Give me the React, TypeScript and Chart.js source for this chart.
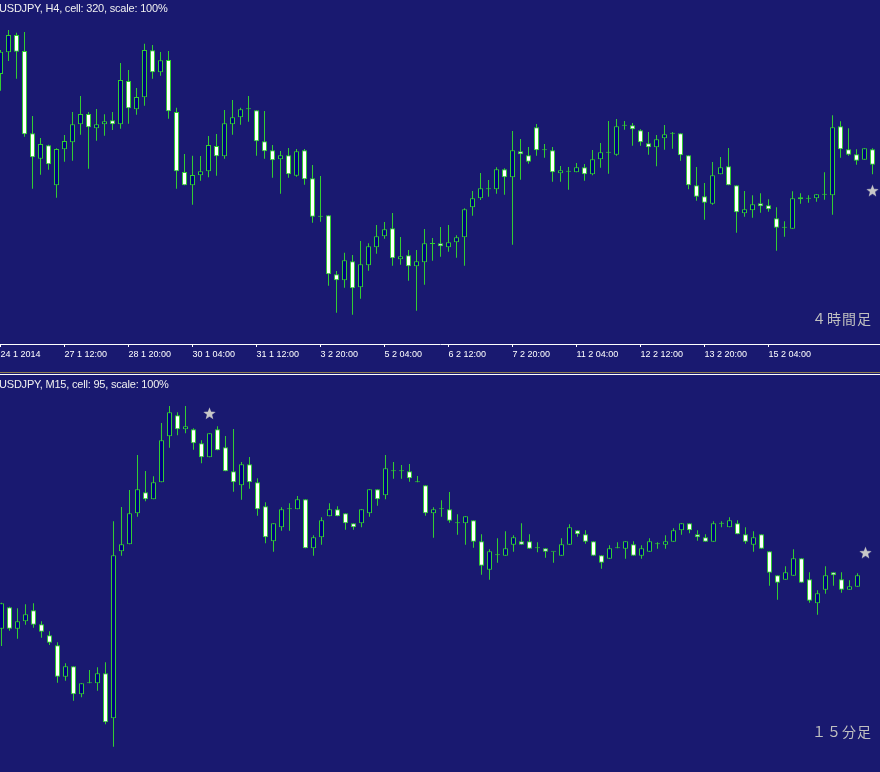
import React, { useEffect, useRef } from "react";
import { Chart, registerables } from "chart.js";

Chart.register(...registerables);

const BG = "#191970";
const GREEN = "#32cd32";
const BULL_FILL = "#000080";
const BEAR_FILL = "#ffffff";
const STAR_COLOR = "#c8c8c8";

// ---------- H4 panel (USDJPY, H4) ----------
const h4Open = [
  102.934, 103.129, 103.285, 103.141, 102.400, 102.172, 102.292, 101.932, 102.256, 102.319,
  102.481, 102.574, 102.445, 102.481, 102.517, 102.481, 102.871, 102.616, 102.724, 103.147,
  102.949, 103.060, 102.592, 102.052, 101.932, 102.022, 102.058, 102.286, 102.193, 102.481,
  102.544, 102.616, 102.607, 102.328, 102.247, 102.166, 102.202, 102.019, 102.247, 101.995,
  101.650, 101.662, 101.131, 101.077, 101.248, 101.014, 101.212, 101.374, 101.473, 101.545,
  101.266, 101.302, 101.203, 101.239, 101.404, 101.410, 101.374, 101.419, 101.464, 101.734,
  101.815, 101.896, 101.896, 102.076, 102.004, 102.238, 102.202, 102.454, 102.247, 102.247,
  102.040, 102.055, 102.049, 102.094, 102.031, 102.166, 102.226, 102.208, 102.469, 102.472,
  102.427, 102.310, 102.274, 102.355, 102.397, 102.400, 102.202, 101.932, 101.833, 101.767,
  102.031, 102.103, 101.932, 101.680, 101.707, 101.770, 101.752, 101.635, 101.551, 101.542,
  101.824, 101.812, 101.815, 101.848, 101.842, 102.463, 102.256, 102.211, 102.163, 102.256,
];
const h4High = [
  103.150, 103.330, 103.306, 103.312, 102.556, 102.358, 102.298, 102.265, 102.385, 102.592,
  102.736, 102.592, 102.619, 102.571, 102.592, 103.033, 102.970, 102.808, 103.207, 103.195,
  103.132, 103.141, 102.631, 102.214, 102.199, 102.196, 102.376, 102.394, 102.610, 102.700,
  102.631, 102.736, 102.607, 102.601, 102.295, 102.241, 102.268, 102.259, 102.259, 102.115,
  102.016, 101.662, 101.161, 101.326, 101.305, 101.431, 101.410, 101.575, 101.602, 101.683,
  101.467, 101.350, 101.350, 101.539, 101.458, 101.557, 101.575, 101.482, 101.725, 101.881,
  102.043, 101.980, 102.094, 102.085, 102.421, 102.349, 102.277, 102.484, 102.304, 102.277,
  102.106, 102.097, 102.133, 102.124, 102.250, 102.313, 102.511, 102.529, 102.511, 102.493,
  102.436, 102.412, 102.385, 102.475, 102.412, 102.400, 102.202, 102.097, 101.953, 102.142,
  102.187, 102.268, 101.932, 101.881, 101.842, 101.860, 101.806, 101.734, 101.608, 101.878,
  101.860, 101.842, 101.851, 102.049, 102.562, 102.508, 102.445, 102.256, 102.265, 102.265,
];
const h4Low = [
  102.784, 103.051, 102.892, 102.370, 101.902, 102.028, 102.073, 101.821, 102.145, 102.154,
  102.388, 102.082, 102.334, 102.379, 102.430, 102.442, 102.487, 102.568, 102.649, 102.892,
  102.919, 102.532, 101.902, 101.932, 101.758, 101.974, 102.004, 102.019, 102.172, 102.388,
  102.478, 102.505, 102.199, 102.172, 102.001, 101.857, 102.001, 102.010, 101.938, 101.596,
  101.605, 101.029, 100.786, 101.011, 100.768, 100.912, 101.164, 101.317, 101.452, 101.209,
  101.218, 101.074, 100.804, 101.038, 101.254, 101.290, 101.335, 101.281, 101.209, 101.659,
  101.800, 101.830, 101.857, 101.848, 101.398, 101.983, 102.127, 102.199, 102.181, 101.965,
  101.965, 101.893, 102.049, 101.974, 102.022, 102.091, 102.037, 102.199, 102.433, 102.289,
  102.289, 102.208, 102.103, 102.253, 102.262, 102.154, 101.896, 101.794, 101.623, 101.758,
  102.031, 101.932, 101.506, 101.650, 101.641, 101.686, 101.695, 101.344, 101.470, 101.542,
  101.767, 101.776, 101.785, 101.803, 101.668, 102.181, 102.199, 102.118, 102.163, 102.031,
];
const h4Close = [
  103.135, 103.285, 103.135, 102.391, 102.184, 102.304, 102.121, 102.259, 102.331, 102.481,
  102.574, 102.454, 102.481, 102.508, 102.481, 102.880, 102.625, 102.727, 103.150, 102.949,
  103.057, 102.598, 102.058, 101.932, 102.025, 102.058, 102.295, 102.193, 102.490, 102.544,
  102.616, 102.616, 102.328, 102.238, 102.157, 102.202, 102.031, 102.238, 101.986, 101.650,
  101.650, 101.131, 101.077, 101.257, 101.005, 101.221, 101.383, 101.473, 101.536, 101.275,
  101.293, 101.203, 101.248, 101.410, 101.404, 101.383, 101.419, 101.464, 101.716, 101.815,
  101.905, 101.896, 102.076, 102.004, 102.247, 102.211, 102.145, 102.247, 102.247, 102.049,
  102.067, 102.055, 102.094, 102.031, 102.166, 102.229, 102.226, 102.463, 102.469, 102.436,
  102.319, 102.274, 102.346, 102.391, 102.397, 102.202, 101.932, 101.830, 101.776, 102.022,
  102.094, 101.932, 101.689, 101.716, 101.761, 101.743, 101.716, 101.551, 101.551, 101.815,
  101.806, 101.812, 101.851, 101.848, 102.454, 102.256, 102.208, 102.154, 102.265, 102.118,
];
const h4TickIndex = [0, 8, 16, 24, 32, 40, 48, 56, 64, 72, 80, 88, 96];
const h4TickLabels = [
  "24 1 2014", "27 1 12:00", "28 1 20:00", "30 1 04:00", "31 1 12:00", "3 2 20:00",
  "5 2 04:00", "6 2 12:00", "7 2 20:00", "11 2 04:00", "12 2 12:00", "13 2 20:00", "15 2 04:00",
];
const h4StarIndex = [109];
const h4StarPrice = [101.884];

// ---------- M15 panel (USDJPY, M15) ----------
const m15Open = [
  101.958, 102.022, 101.958, 101.980, 102.013, 101.971, 101.938, 101.908, 101.814, 101.845,
  101.761, 101.794, 101.794, 101.824, 101.689, 102.190, 102.211, 102.304, 102.367, 102.346,
  102.397, 102.535, 102.598, 102.556, 102.556, 102.514, 102.472, 102.556, 102.502, 102.430,
  102.388, 102.451, 102.397, 102.325, 102.220, 102.262, 102.316, 102.316, 102.346, 102.199,
  102.232, 102.295, 102.316, 102.304, 102.274, 102.274, 102.304, 102.376, 102.358, 102.430,
  102.430, 102.430, 102.397, 102.388, 102.304, 102.316, 102.316, 102.274, 102.274, 102.283,
  102.220, 102.135, 102.178, 102.177, 102.210, 102.220, 102.220, 102.199, 102.199, 102.189,
  102.177, 102.210, 102.253, 102.241, 102.220, 102.178, 102.168, 102.199, 102.198, 102.211,
  102.177, 102.189, 102.211, 102.210, 102.219, 102.253, 102.274, 102.241, 102.232, 102.219,
  102.273, 102.262, 102.274, 102.241, 102.210, 102.241, 102.190, 102.118, 102.105, 102.117,
  102.169, 102.106, 102.034, 102.075, 102.127, 102.106, 102.075, 102.084,
];
const m15High = [
  102.036, 102.024, 102.019, 102.031, 102.034, 101.980, 101.950, 101.917, 101.854, 101.845,
  101.794, 101.834, 101.842, 101.857, 102.280, 102.323, 102.374, 102.479, 102.431, 102.415,
  102.575, 102.626, 102.607, 102.626, 102.559, 102.523, 102.544, 102.565, 102.536, 102.557,
  102.458, 102.473, 102.409, 102.337, 102.274, 102.322, 102.334, 102.356, 102.346, 102.238,
  102.292, 102.334, 102.325, 102.304, 102.274, 102.316, 102.376, 102.376, 102.479, 102.458,
  102.449, 102.452, 102.416, 102.388, 102.322, 102.343, 102.368, 102.301, 102.295, 102.283,
  102.241, 102.196, 102.229, 102.250, 102.238, 102.274, 102.241, 102.217, 102.199, 102.189,
  102.229, 102.271, 102.253, 102.253, 102.220, 102.178, 102.208, 102.217, 102.220, 102.220,
  102.208, 102.229, 102.217, 102.238, 102.259, 102.274, 102.274, 102.253, 102.241, 102.280,
  102.280, 102.292, 102.283, 102.262, 102.250, 102.241, 102.190, 102.118, 102.145, 102.196,
  102.169, 102.127, 102.073, 102.145, 102.127, 102.127, 102.103, 102.124,
];
const m15Low = [
  101.906, 101.952, 101.928, 101.970, 101.961, 101.931, 101.909, 101.796, 101.802, 101.742,
  101.752, 101.794, 101.772, 101.671, 101.604, 102.177, 102.211, 102.294, 102.340, 102.346,
  102.397, 102.501, 102.538, 102.544, 102.495, 102.454, 102.472, 102.493, 102.430, 102.369,
  102.345, 102.378, 102.297, 102.214, 102.189, 102.252, 102.252, 102.316, 102.199, 102.177,
  102.210, 102.295, 102.295, 102.255, 102.255, 102.262, 102.294, 102.327, 102.346, 102.408,
  102.408, 102.399, 102.397, 102.297, 102.231, 102.294, 102.276, 102.240, 102.210, 102.201,
  102.120, 102.105, 102.156, 102.177, 102.189, 102.210, 102.198, 102.187, 102.171, 102.156,
  102.177, 102.210, 102.234, 102.213, 102.177, 102.138, 102.168, 102.199, 102.168, 102.177,
  102.168, 102.189, 102.198, 102.198, 102.219, 102.240, 102.244, 102.222, 102.219, 102.219,
  102.262, 102.262, 102.241, 102.213, 102.189, 102.198, 102.087, 102.045, 102.105, 102.117,
  102.096, 102.036, 102.000, 102.063, 102.087, 102.066, 102.075, 102.084,
];
const m15Close = [
  102.034, 101.958, 101.980, 102.001, 101.970, 101.949, 101.916, 101.814, 101.845, 101.761,
  101.794, 101.794, 101.824, 101.677, 102.178, 102.211, 102.304, 102.376, 102.346, 102.397,
  102.523, 102.607, 102.556, 102.565, 102.514, 102.472, 102.544, 102.493, 102.430, 102.397,
  102.451, 102.397, 102.316, 102.232, 102.274, 102.316, 102.316, 102.346, 102.199, 102.232,
  102.283, 102.316, 102.295, 102.274, 102.262, 102.316, 102.376, 102.346, 102.439, 102.430,
  102.430, 102.409, 102.397, 102.304, 102.316, 102.316, 102.282, 102.274, 102.295, 102.219,
  102.147, 102.190, 102.178, 102.199, 102.232, 102.210, 102.198, 102.199, 102.189, 102.189,
  102.211, 102.262, 102.241, 102.219, 102.177, 102.156, 102.199, 102.199, 102.220, 102.177,
  102.199, 102.220, 102.211, 102.220, 102.253, 102.274, 102.253, 102.232, 102.219, 102.274,
  102.273, 102.283, 102.241, 102.219, 102.232, 102.198, 102.126, 102.096, 102.127, 102.169,
  102.096, 102.042, 102.064, 102.118, 102.118, 102.075, 102.085, 102.118,
];
const m15StarIndex = [26, 108];
const m15StarPrice = [102.604, 102.186];

// ---------- helpers ----------
function makeStar(): HTMLCanvasElement {
  const c = document.createElement("canvas");
  c.width = 13;
  c.height = 13;
  const ctx = c.getContext("2d")!;
  ctx.fillStyle = STAR_COLOR;
  ctx.beginPath();
  for (let i = 0; i < 10; i++) {
    const r = i % 2 === 0 ? 6.5 : 2.7;
    const a = -Math.PI / 2 + (i * Math.PI) / 5;
    const x = 6.5 + r * Math.cos(a);
    const y = 7 + r * Math.sin(a);
    if (i === 0) ctx.moveTo(x, y);
    else ctx.lineTo(x, y);
  }
  ctx.closePath();
  ctx.fill();
  return c;
}

function candleDatasets(
  open: number[], high: number[], low: number[], close: number[],
  starIdx: number[], starPrice: number[], star: HTMLCanvasElement
): any[] {
  const bodies = open.map((o, i) => ({ x: i, y: [o, close[i]] }));
  const wicks = open.map((_, i) => ({ x: i, y: [low[i], high[i]] }));
  const fills = open.map((o, i) => (close[i] > o ? BULL_FILL : BEAR_FILL));
  const stars = starIdx.map((x, i) => ({ x, y: starPrice[i] }));
  return [
    {
      type: "bar", data: bodies, backgroundColor: fills, borderColor: GREEN,
      borderWidth: 1, borderSkipped: false, maxBarThickness: 5, minBarLength: 1,
      grouped: false, inflateAmount: 0, order: 1,
    },
    {
      type: "bar", data: wicks, backgroundColor: GREEN, borderWidth: 0,
      maxBarThickness: 1, grouped: false, inflateAmount: 0, order: 2,
    },
    {
      type: "scatter", data: stars, pointStyle: star, pointRadius: 6,
      showLine: false, order: 0, clip: false,
    },
  ];
}

export default function App() {
  const topRef = useRef<HTMLCanvasElement>(null);
  const botRef = useRef<HTMLCanvasElement>(null);

  useEffect(() => {
    document.body.style.margin = "0";
    const star = makeStar();

    const top = new Chart(topRef.current!, {
      type: "bar",
      data: { datasets: candleDatasets(h4Open, h4High, h4Low, h4Close, h4StarIndex, h4StarPrice, star) },
      options: {
        animation: false,
        responsive: false,
        devicePixelRatio: 1,
        layout: { padding: 0, autoPadding: false },
        plugins: { legend: { display: false }, tooltip: { enabled: false }, title: { display: false } },
        scales: {
          x: {
            type: "linear",
            min: -0.0625,
            max: 109.9375,
            offset: false,
            bounds: "data",
            grid: { display: true, drawOnChartArea: false, drawTicks: true, tickLength: 3, color: "#ffffff", lineWidth: 1, offset: false },
            border: { display: true, color: "#ffffff", width: 1 },
            ticks: {
              autoSkip: false,
              maxRotation: 0,
              minRotation: 0,
              align: "start",
              padding: 0,
              color: "#ffffff",
              font: { family: "'Liberation Sans', Arial, sans-serif", size: 9, lineHeight: 1.6 },
              callback: (v: any) => {
                const i = h4TickIndex.indexOf(Number(v));
                return i >= 0 ? h4TickLabels[i] : "";
              },
            },
            afterBuildTicks: (axis: any) => {
              axis.ticks = h4TickIndex.map((v) => ({ value: v }));
            },
            afterFit: (axis: any) => {
              axis.height = 28;
            },
          },
          y: { type: "linear", display: false, min: 100.504, max: 103.6, bounds: "data" },
        },
      } as any,
    });

    const bottom = new Chart(botRef.current!, {
      type: "bar",
      data: { datasets: candleDatasets(m15Open, m15High, m15Low, m15Close, m15StarIndex, m15StarPrice, star) },
      options: {
        animation: false,
        responsive: false,
        devicePixelRatio: 1,
        layout: { padding: 0, autoPadding: false },
        plugins: { legend: { display: false }, tooltip: { enabled: false }, title: { display: false } },
        scales: {
          x: { type: "linear", display: false, min: -0.1875, max: 109.8125, offset: false, bounds: "data", grid: { offset: false } },
          y: { type: "linear", display: false, min: 101.528, max: 102.716, bounds: "data" },
        },
      } as any,
    });

    return () => {
      top.destroy();
      bottom.destroy();
    };
  }, []);

  const titleStyle: React.CSSProperties = {
    position: "absolute",
    left: -1,
    fontFamily: "'Liberation Sans', Arial, sans-serif",
    fontSize: 11,
    lineHeight: "13px",
    letterSpacing: "-0.2px",
    color: "#f0f0f0",
    whiteSpace: "nowrap",
  };
  const jpStyle: React.CSSProperties = {
    position: "absolute",
    left: 812,
    fontFamily: "'Noto Sans CJK JP', sans-serif",
    fontSize: 14,
    lineHeight: "14px",
    letterSpacing: "1px",
    color: "#c0c0c0",
    whiteSpace: "nowrap",
  };

  return (
    <div style={{ position: "fixed", left: 0, top: 0, width: 880, height: 772, background: BG, overflow: "hidden" }}>
      <canvas ref={topRef} width={880} height={372} style={{ position: "absolute", left: 0, top: 0 }} />
      <div style={{ position: "absolute", left: 0, top: 372, width: 880, height: 1, background: "#8c7c50" }} />
      <div style={{ position: "absolute", left: 0, top: 374, width: 880, height: 1, background: "#ffffff" }} />
      <canvas ref={botRef} width={880} height={396} style={{ position: "absolute", left: 0, top: 376 }} />
      <div style={{ ...titleStyle, top: 2 }}>USDJPY, H4, cell: 320, scale: 100%</div>
      <div style={{ ...titleStyle, top: 378 }}>USDJPY, M15, cell: 95, scale: 100%</div>
      <div style={{ ...jpStyle, top: 311 }}>４時間足</div>
      <div style={{ ...jpStyle, top: 724 }}>１５分足</div>
    </div>
  );
}
